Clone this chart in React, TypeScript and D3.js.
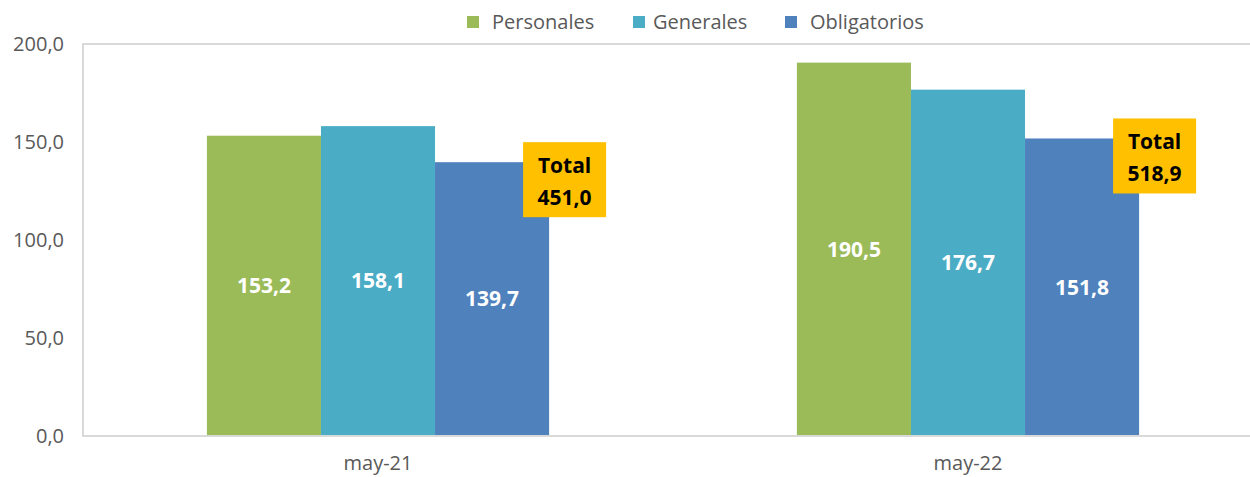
import React from 'react';
import * as d3 from 'd3';

const categories = ['may-21', 'may-22'];
const seriesNames = ['Personales', 'Generales', 'Obligatorios'];
const personales = [153.2, 190.5];
const generales = [158.1, 176.7];
const obligatorios = [139.7, 151.8];
const totals = [451.0, 518.9];
const yTicks = [0, 50, 100, 150, 200];

const colors = ['#9BBB59', '#4BACC6', '#4F81BD'];
const font = '"Open Sans", "Noto Sans", sans-serif';

const locale = d3.formatLocale({ decimal: ',', thousands: '.', grouping: [3], currency: ['', ''] });
const fmt = locale.format('.1f');

const App = () => {
    const width = 1250;
    const height = 477;
    const plotLeft = 83;
    const plotTop = 44;
    const plotBottom = 436;

    const seriesValues = [personales, generales, obligatorios];

    // Scales
    const x = d3.scaleBand<string>()
        .domain(categories)
        .range([plotLeft, 1263])
        .paddingInner(0.42)
        .paddingOuter(0.21);

    const xInner = d3.scaleBand<string>()
        .domain(seriesNames)
        .range([0, x.bandwidth()]);

    const y = d3.scaleLinear()
        .domain([0, 200])
        .range([plotBottom, plotTop]);

    // Legend layout
    const legendItems = [
        { name: 'Personales', sx: 467, tx: 492 },
        { name: 'Generales', sx: 633, tx: 653 },
        { name: 'Obligatorios', sx: 785, tx: 810 },
    ];

    return (
        <svg width={width} height={height} style={{ position: 'absolute', left: 0, top: 0, background: '#fff' }}>
            {/* plot area frame */}
            <rect x={plotLeft} y={plotTop} width={width} height={plotBottom - plotTop}
                fill="none" stroke="#d9d9d9" strokeWidth={2} />

            {/* legend */}
            {legendItems.map((d, i) => (
                <g key={d.name}>
                    <rect x={d.sx} y={16} width={12} height={12} fill={colors[i]} />
                    <text x={d.tx} y={22} dy="0.35em" fontFamily={font} fontSize={20} fill="#595959">{d.name}</text>
                </g>
            ))}

            {/* y axis labels */}
            {yTicks.map(t => (
                <text key={t} x={64} y={y(t)} dy="0.35em" textAnchor="end"
                    fontFamily={font} fontSize={20} fill="#595959">{fmt(t)}</text>
            ))}

            {/* bars */}
            {categories.map((c, ci) => (
                <g key={c} transform={`translate(${x(c)},0)`}>
                    {seriesNames.map((s, si) => {
                        const v = seriesValues[si][ci];
                        const bx = xInner(s) as number;
                        return (
                            <g key={s}>
                                <rect x={bx} y={y(v)} width={xInner.bandwidth()} height={plotBottom - y(v)}
                                    fill={colors[si]} />
                                <text x={bx + xInner.bandwidth() / 2} y={(y(v) + plotBottom) / 2} dy="0.35em"
                                    textAnchor="middle" fontFamily={font} fontSize={21} fontWeight="bold"
                                    fill="#fff">{fmt(v)}</text>
                            </g>
                        );
                    })}
                </g>
            ))}

            {/* x axis line */}
            <line x1={plotLeft} x2={width} y1={plotBottom} y2={plotBottom} stroke="#d9d9d9" strokeWidth={2} />

            {/* x labels */}
            {categories.map(c => (
                <text key={c} x={(x(c) as number) + x.bandwidth() / 2} y={463} dy="0.35em" textAnchor="middle"
                    fontFamily={font} fontSize={20} fill="#595959">{c}</text>
            ))}

            {/* total boxes */}
            {categories.map((c, ci) => {
                const blueRight = (x(c) as number) + (xInner('Obligatorios') as number) + xInner.bandwidth();
                const bx = blueRight - 26;
                const by = y(obligatorios[ci]) - 20;
                return (
                    <g key={c}>
                        <rect x={bx} y={by} width={83} height={75} fill="#FFC000" />
                        <text x={bx + 41.5} y={by + 23} dy="0.35em" textAnchor="middle" fontFamily={font}
                            fontSize={21} fontWeight="bold" fill="#000">Total</text>
                        <text x={bx + 41.5} y={by + 55} dy="0.35em" textAnchor="middle" fontFamily={font}
                            fontSize={21} fontWeight="bold" fill="#000">{fmt(totals[ci])}</text>
                    </g>
                );
            })}
        </svg>
    );
};

export default App;
